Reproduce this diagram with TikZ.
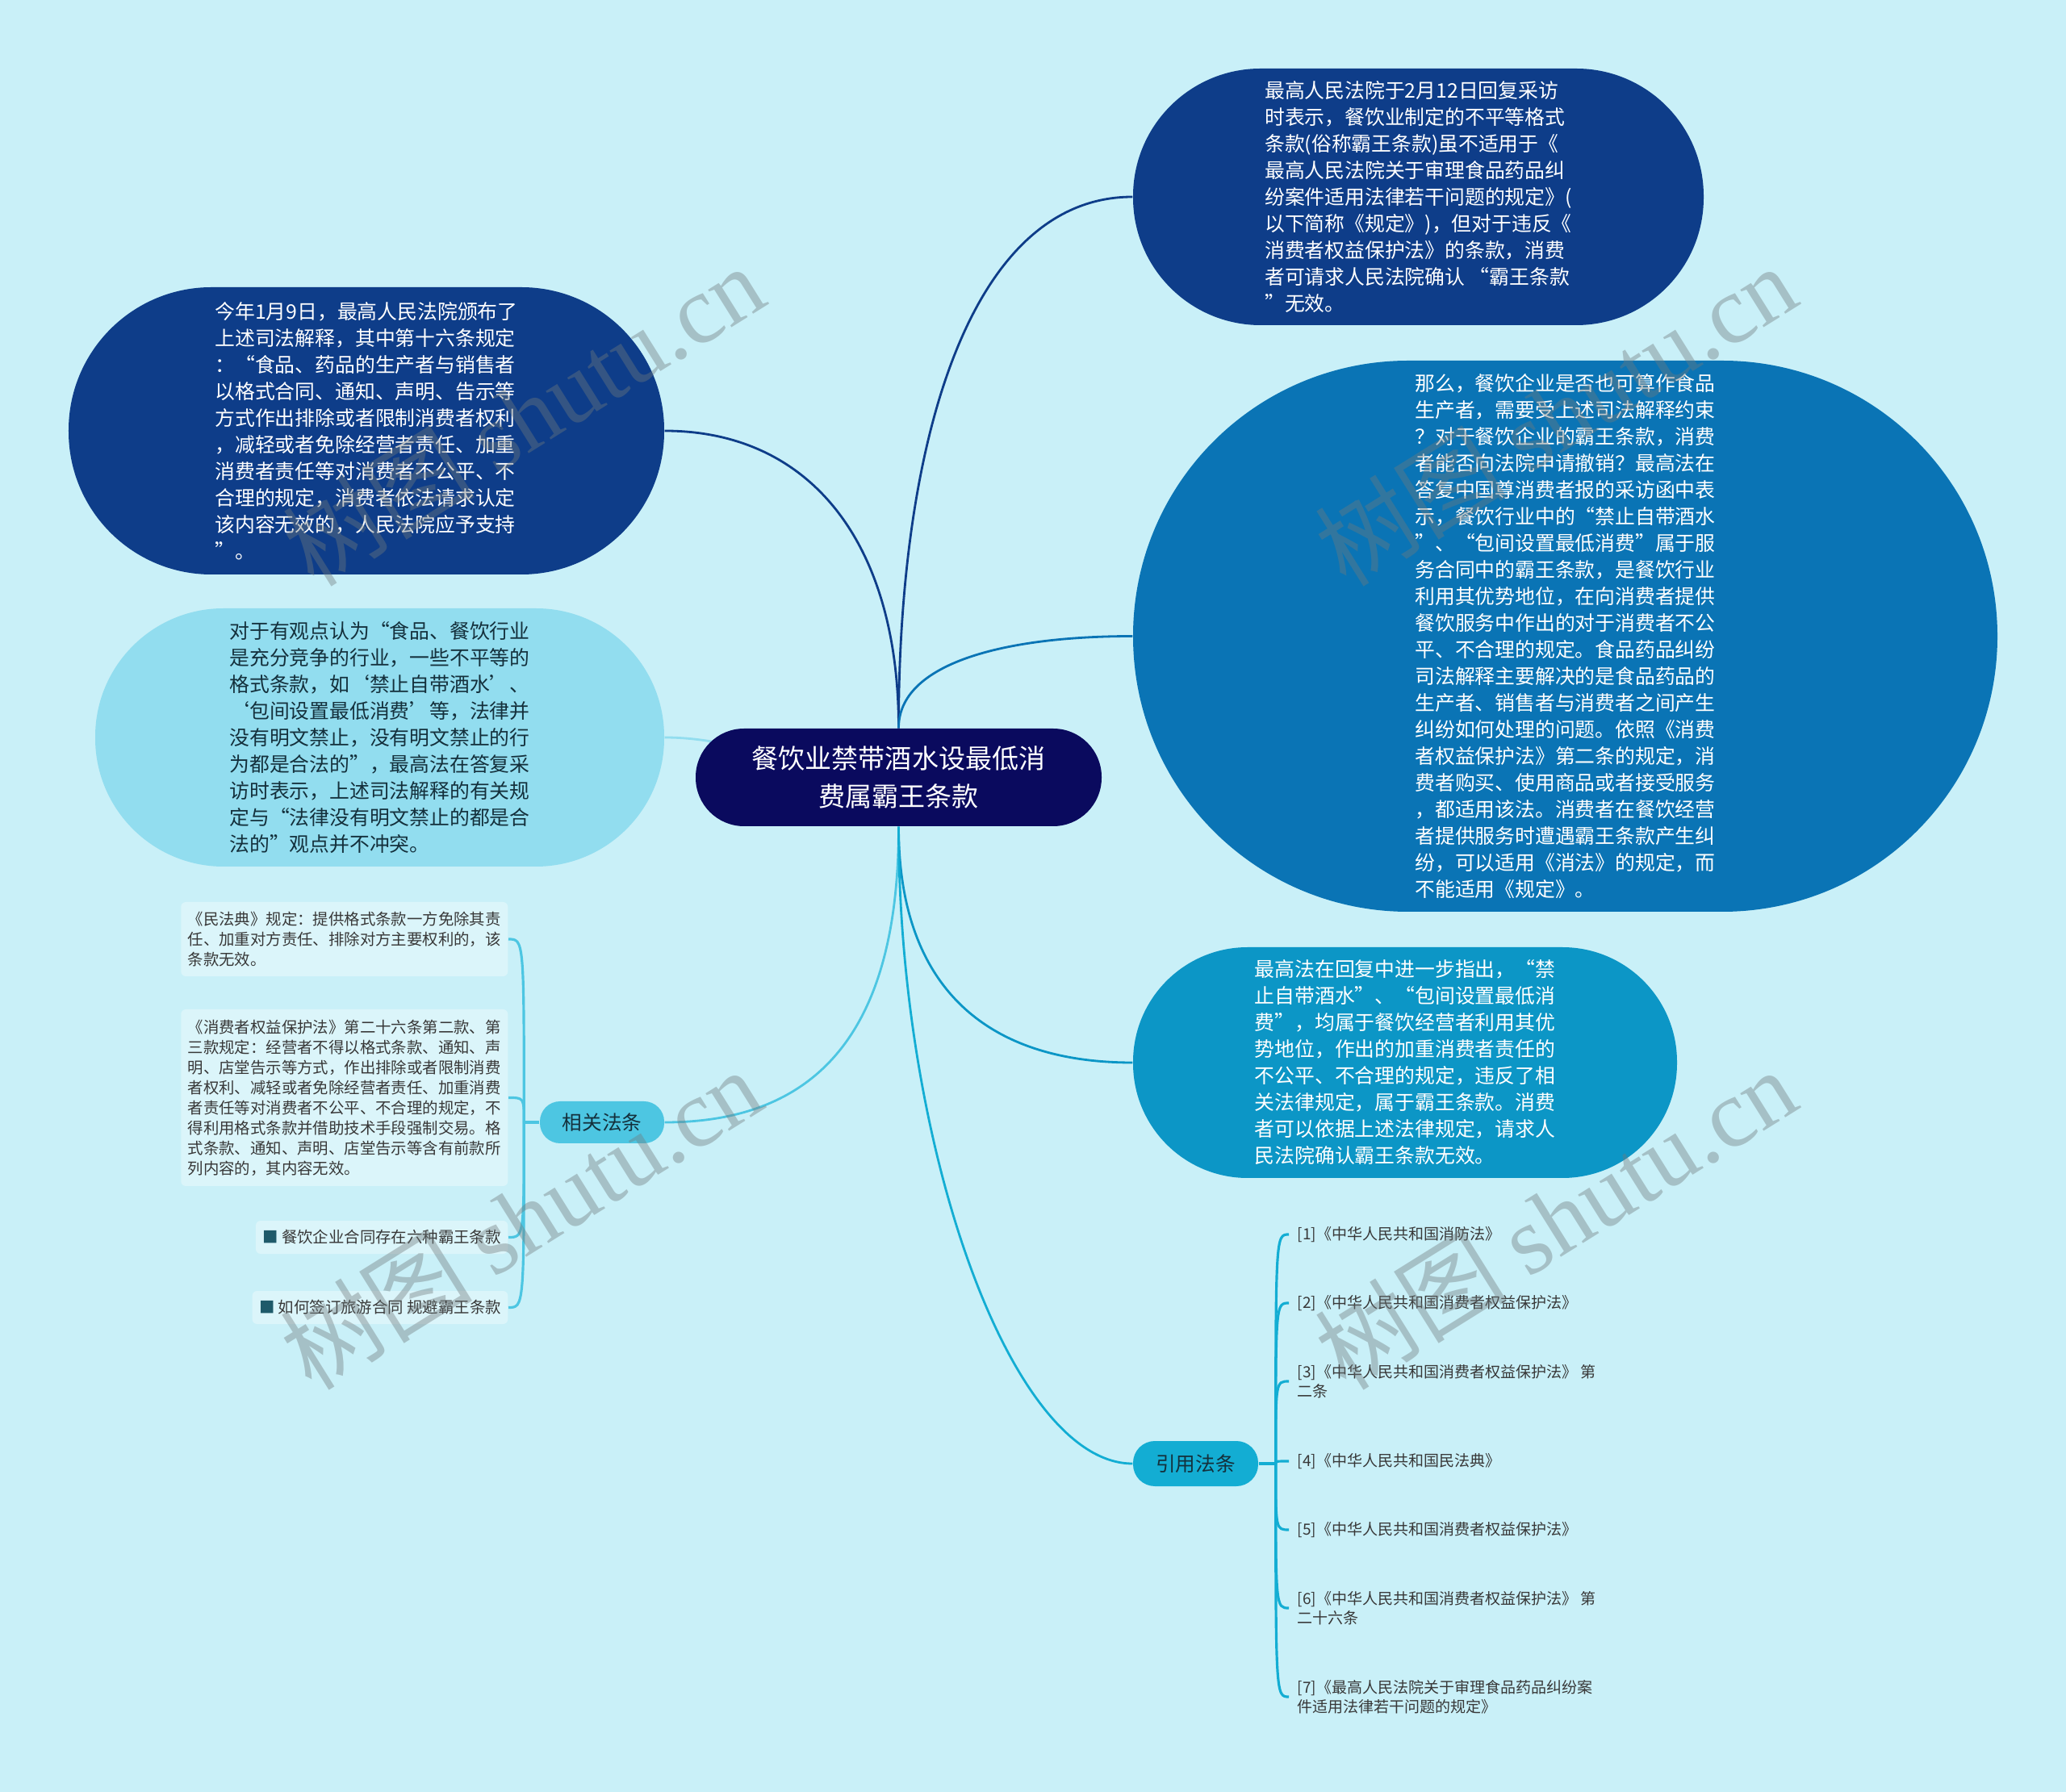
\documentclass[tikz,border=0pt]{standalone}
\usepackage{fontspec}
\setmainfont{Noto Sans CJK SC}
\newfontfamily\wmlatin{Liberation Serif}
\usetikzlibrary{backgrounds}

\definecolor{bgcol}{HTML}{C9F0F8}
\definecolor{rootcol}{HTML}{0A0A5E}
\definecolor{deepcol}{HTML}{0E3D89}
\definecolor{bigcol}{HTML}{0A74B5}
\definecolor{midcol}{HTML}{0C96C6}
\definecolor{palecol}{HTML}{92DDEF}
\definecolor{relcol}{HTML}{4DC6E2}
\definecolor{citecol}{HTML}{13ADD3}
\definecolor{boxcol}{HTML}{DBF5FA}
\definecolor{inkcol}{HTML}{383838}
\definecolor{darkink}{HTML}{14303C}
\definecolor{bulletcol}{HTML}{1E5A6A}
\definecolor{wmcol}{HTML}{707A7C}

\newcommand{\setfs}[2]{\fontsize{#1}{#2}\selectfont}

\begin{document}
\begin{tikzpicture}[
    topic/.style={rectangle, inner sep=0pt, align=left, text=white, font=\setfs{7.06pt}{9.39pt}},
    rootbox/.style={rectangle, fill=rootcol, text=white, align=center, inner sep=0pt,
        minimum width=5.03cm, minimum height=1.21cm, rounded corners=0.6cm, font=\setfs{9.4pt}{13.4pt}},
    branch/.style={rectangle, inner sep=0pt, text=darkink, font=\setfs{7.0pt}{9pt}},
    relbox/.style={rectangle, fill=boxcol, rounded corners=0.06cm, align=left, text=inkcol,
        inner xsep=0.085cm, inner ysep=0pt, font=\setfs{5.52pt}{7.1pt}},
    leaf/.style={anchor=west, inner xsep=0.1cm, inner ysep=0.02cm, align=left, text=inkcol, font=\setfs{5.41pt}{6.8pt}},
    link/.style={line width=0.8pt},
    twig/.style={line width=0.9pt},
    wm/.style={rotate=32, text=wmcol, opacity=0.4, font=\setfs{34pt}{40pt}}
]
\useasboundingbox (0,0) rectangle (25.6,-22.21);

% centre topic
\node[rootbox] (root) at (11.135,-9.635) {餐饮业禁带酒水设最低消\\费属霸王条款};

% main topics
\node[topic, fill=deepcol, minimum width=7.07cm, minimum height=3.18cm, rounded corners=1.58cm] (n1) at (17.575,-2.44) {最高人民法院于2月12日回复采访\\
时表示，餐饮业制定的不平等格式\\
条款(俗称霸王条款)虽不适用于《\\
最高人民法院关于审理食品药品纠\\
纷案件适用法律若干问题的规定》(\\
以下简称《规定》)，但对于违反《\\
消费者权益保护法》的条款，消费\\
者可请求人民法院确认 “霸王条款\\
”无效。};

\node[topic, fill=deepcol, minimum width=7.38cm, minimum height=3.56cm, rounded corners=1.77cm] (n2) at (4.54,-5.34) {今年1月9日，最高人民法院颁布了\\
上述司法解释，其中第十六条规定\\
：“食品、药品的生产者与销售者\\
以格式合同、通知、声明、告示等\\
方式作出排除或者限制消费者权利\\
，减轻或者免除经营者责任、加重\\
消费者责任等对消费者不公平、不\\
合理的规定，消费者依法请求认定\\
该内容无效的，人民法院应予支持\\
”。};

\node[topic, fill=bigcol, minimum width=10.71cm, minimum height=6.83cm, rounded corners=3.41cm] (n3) at (19.395,-7.885) {那么，餐饮企业是否也可算作食品\\
生产者，需要受上述司法解释约束\\
？对于餐饮企业的霸王条款，消费\\
者能否向法院申请撤销？最高法在\\
答复中国尊消费者报的采访函中表\\
示，餐饮行业中的“禁止自带酒水\\
”、“包间设置最低消费”属于服\\
务合同中的霸王条款，是餐饮行业\\
利用其优势地位，在向消费者提供\\
餐饮服务中作出的对于消费者不公\\
平、不合理的规定。食品药品纠纷\\
司法解释主要解决的是食品药品的\\
生产者、销售者与消费者之间产生\\
纠纷如何处理的问题。依照《消费\\
者权益保护法》第二条的规定，消\\
费者购买、使用商品或者接受服务\\
，都适用该法。消费者在餐饮经营\\
者提供服务时遭遇霸王条款产生纠\\
纷，可以适用《消法》的规定，而\\
不能适用《规定》。};

\node[topic, fill=palecol, text=darkink, minimum width=7.05cm, minimum height=3.20cm, rounded corners=1.59cm] (n4) at (4.705,-9.14) {对于有观点认为“食品、餐饮行业\\
是充分竞争的行业，一些不平等的\\
格式条款，如‘禁止自带酒水’、\\
‘包间设置最低消费’等，法律并\\
没有明文禁止，没有明文禁止的行\\
为都是合法的”，最高法在答复采\\
访时表示，上述司法解释的有关规\\
定与“法律没有明文禁止的都是合\\
法的”观点并不冲突。};

\node[topic, fill=midcol, minimum width=6.74cm, minimum height=2.86cm, rounded corners=1.42cm] (n5) at (17.41,-13.17) {最高法在回复中进一步指出，“禁\\
止自带酒水”、“包间设置最低消\\
费”，均属于餐饮经营者利用其优\\
势地位，作出的加重消费者责任的\\
不公平、不合理的规定，违反了相\\
关法律规定，属于霸王条款。消费\\
者可以依据上述法律规定，请求人\\
民法院确认霸王条款无效。};

% 相关法条
\node[branch, fill=relcol, minimum width=1.54cm, minimum height=0.52cm, rounded corners=0.25cm] (rel) at (7.46,-13.91) {相关法条};
\coordinate (relj) at ([xshift=-0.19cm]rel.west);

\node[relbox, anchor=east, minimum height=0.92cm] (rel1) at (6.30,-11.64) {《民法典》规定：提供格式条款一方免除其责\\
任、加重对方责任、排除对方主要权利的，该\\
条款无效。};
\node[relbox, anchor=east, minimum height=2.19cm] (rel2) at (6.30,-13.605) {《消费者权益保护法》第二十六条第二款、第\\
三款规定：经营者不得以格式条款、通知、声\\
明、店堂告示等方式，作出排除或者限制消费\\
者权利、减轻或者免除经营者责任、加重消费\\
者责任等对消费者不公平、不合理的规定，不\\
得利用格式条款并借助技术手段强制交易。格\\
式条款、通知、声明、店堂告示等含有前款所\\
列内容的，其内容无效。};
\node[relbox, anchor=east, minimum height=0.41cm] (rel3) at (6.30,-15.335) {{\color{bulletcol}■} 餐饮企业合同存在六种霸王条款};
\node[relbox, anchor=east, minimum height=0.41cm] (rel4) at (6.30,-16.205) {{\color{bulletcol}■} 如何签订旅游合同 规避霸王条款};

% 引用法条
\node[branch, fill=citecol, minimum width=1.55cm, minimum height=0.56cm, rounded corners=0.27cm] (cite) at (14.815,-18.14) {引用法条};
\coordinate (citej) at ([xshift=0.21cm]cite.east);

\foreach \k/\y/\txt in {
    1/15.30/{[1]《中华人民共和国消防法》},
    2/16.15/{[2]《中华人民共和国消费者权益保护法》},
    3/17.12/{[3]《中华人民共和国消费者权益保护法》 第\\二条},
    4/18.11/{[4]《中华人民共和国民法典》},
    5/18.96/{[5]《中华人民共和国消费者权益保护法》},
    6/19.93/{[6]《中华人民共和国消费者权益保护法》 第\\二十六条},
    7/21.03/{[7]《最高人民法院关于审理食品药品纠纷案\\件适用法律若干问题的规定》}}
    \node[leaf] (ref\k) at (15.97,-\y) {\txt};

% connectors
\begin{pgfonlayer}{background}
    \fill[bgcol] (0,0) rectangle (25.6,-22.21);
    \draw[link, deepcol] (root.north) .. controls +(0,3.6) and +(-2.0,0) .. (n1.west);
    \draw[link, deepcol] (root.north) .. controls +(0,2.3) and +(1.8,0) .. (n2.east);
    \draw[link, bigcol] (root.north) .. controls +(0,0.8) and +(-1.6,0) .. (n3.west);
    \draw[link, palecol] (root.center) .. controls +(-1,0) and +(1,0) .. (n4.east);
    \draw[link, midcol] (root.south) .. controls +(0,-1.9) and +(-1.9,0) .. (n5.west);
    \draw[link, relcol] (root.south) .. controls +(0,-2.4) and +(2.0,0) .. (rel.east);
    \draw[link, citecol] (root.south) .. controls +(0,-4.0) and +(-1.5,0) .. (cite.west);

    \draw[twig, relcol] (rel.west) -- (relj);
    \foreach \k in {1,...,4}
        \draw[twig, relcol] (relj) .. controls (relj |- rel\k.east) and (relj |- rel\k.east) .. (rel\k.east);
    \draw[twig, citecol] (cite.east) -- (citej);
    \foreach \k in {1,...,7}
        \draw[twig, citecol] (citej) .. controls (citej |- ref\k.west) and (citej |- ref\k.west) .. (ref\k.west);
\end{pgfonlayer}

% watermark
\foreach \p [count=\k] in {(6.48,-5.14),(19.27,-5.14),(6.45,-15.10),(19.27,-15.10)}
    \node[wm] (wm\k) at \p {树图 {\wmlatin shutu.cn}};
\end{tikzpicture}
\end{document}
